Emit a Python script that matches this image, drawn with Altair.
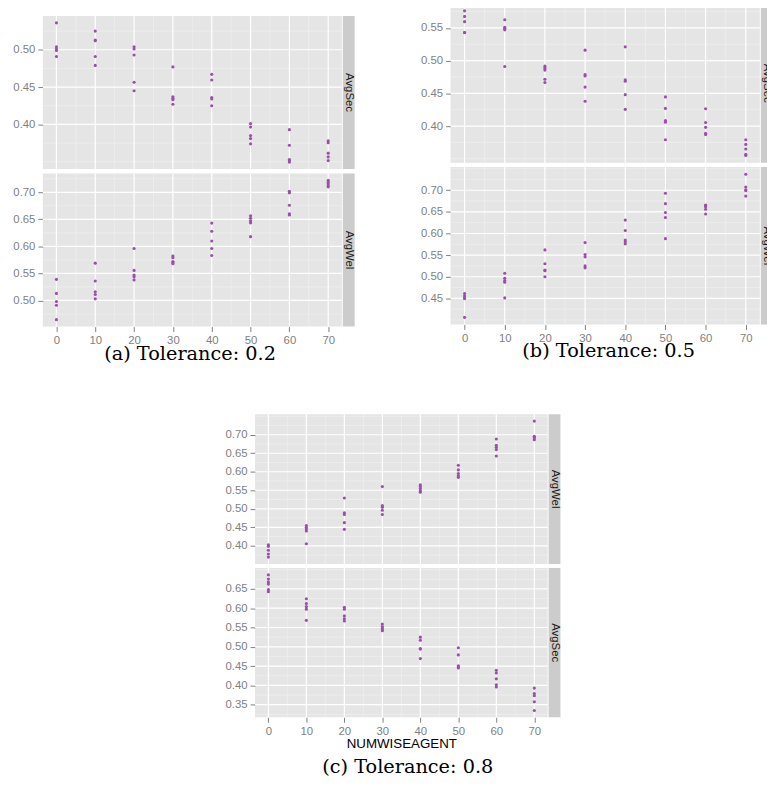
import altair as alt
import numpy as np
import pandas as pd

X_LEVELS = [0, 10, 20, 30, 40, 50, 60, 70]
X_MAJOR = [0, 10, 20, 30, 40, 50, 60, 70]
X_MINOR = [5, 15, 25, 35, 45, 55, 65]
X_DOMAIN = [-3.5, 73.5]

# (a) Tolerance 0.2
a_sec = [[0.536, 0.504, 0.501, 0.499, 0.491],
         [0.525, 0.513, 0.512, 0.491, 0.479],
         [0.504, 0.501, 0.493, 0.4565, 0.445],
         [0.477, 0.437, 0.435, 0.433, 0.427],
         [0.467, 0.4595, 0.436, 0.434, 0.425],
         [0.401, 0.3965, 0.385, 0.381, 0.374],
         [0.393, 0.372, 0.353, 0.351, 0.3495],
         [0.378, 0.3755, 0.3615, 0.3565, 0.3515]]
a_wel = [[0.539, 0.513, 0.498, 0.491, 0.4645],
         [0.569, 0.536, 0.516, 0.511, 0.503],
         [0.596, 0.5555, 0.547, 0.544, 0.538],
         [0.582, 0.579, 0.572, 0.570, 0.568],
         [0.643, 0.628, 0.610, 0.596, 0.583],
         [0.6565, 0.652, 0.647, 0.6435, 0.618],
         [0.702, 0.699, 0.676, 0.660, 0.658],
         [0.722, 0.719, 0.716, 0.712, 0.710]]
# (b) Tolerance 0.5
b_sec = [[0.576, 0.5675, 0.5595, 0.543, 0.543],
         [0.5625, 0.551, 0.549, 0.547, 0.491],
         [0.4915, 0.4885, 0.4855, 0.4715, 0.4665],
         [0.516, 0.4785, 0.4765, 0.4595, 0.438],
         [0.521, 0.4705, 0.4685, 0.448, 0.4255],
         [0.4445, 0.427, 0.4085, 0.406, 0.379],
         [0.4265, 0.4055, 0.398, 0.389, 0.387],
         [0.379, 0.372, 0.365, 0.357, 0.355]]
b_wel = [[0.461, 0.4555, 0.451, 0.4495, 0.406],
         [0.508, 0.4965, 0.491, 0.4875, 0.451],
         [0.562, 0.530, 0.5155, 0.514, 0.500],
         [0.579, 0.5515, 0.546, 0.525, 0.5205],
         [0.631, 0.607, 0.585, 0.581, 0.576],
         [0.693, 0.669, 0.6485, 0.637, 0.588],
         [0.666, 0.664, 0.662, 0.656, 0.645],
         [0.737, 0.7075, 0.701, 0.699, 0.6865]]
# (c) Tolerance 0.8
c_wel = [[0.403, 0.3985, 0.388, 0.378, 0.3695],
         [0.455, 0.450, 0.4455, 0.440, 0.4055],
         [0.529, 0.489, 0.4845, 0.4625, 0.4445],
         [0.560, 0.5085, 0.504, 0.496, 0.4845],
         [0.5645, 0.560, 0.5545, 0.549, 0.545],
         [0.6175, 0.605, 0.5955, 0.589, 0.585],
         [0.6885, 0.6715, 0.666, 0.660, 0.6425],
         [0.737, 0.6955, 0.694, 0.6915, 0.6865]]
c_sec = [[0.6865, 0.6755, 0.668, 0.6625, 0.648, 0.6425],
         [0.6245, 0.612, 0.604, 0.5975, 0.5685],
         [0.6025, 0.5975, 0.580, 0.5725, 0.567],
         [0.559, 0.5525, 0.5485, 0.5445, 0.5415],
         [0.525, 0.517, 0.4955, 0.494, 0.4695],
         [0.4975, 0.479, 0.451, 0.448, 0.445],
         [0.439, 0.432, 0.417, 0.4015, 0.396],
         [0.393, 0.379, 0.3735, 0.3575, 0.335]]

# y tick labels per facet
a_sec_ticks = [0.40, 0.45, 0.50]
a_wel_ticks = [0.50, 0.55, 0.60, 0.65, 0.70]
b_sec_ticks = [0.40, 0.45, 0.50, 0.55]
b_wel_ticks = [0.45, 0.50, 0.55, 0.60, 0.65, 0.70]
c_wel_ticks = [0.40, 0.45, 0.50, 0.55, 0.60, 0.65, 0.70]
c_sec_ticks = [0.35, 0.40, 0.45, 0.50, 0.55, 0.60, 0.65]

captions = ["(a) Tolerance: 0.2", "(b) Tolerance: 0.5", "(c) Tolerance: 0.8"]
x_title = "NUMWISEAGENT"

POINT_COLOR = "#9B4FAB"
BG = "#E5E5E5"
MINOR_COLOR = "#F2F2F2"
STRIP_FILL = "#CCCCCC"
LABEL_COLOR = "#7F7F7F"


def to_df(vals):
    xs, ys = [], []
    for xv, col in zip(X_LEVELS, vals):
        for v in col:
            xs.append(xv)
            ys.append(v)
    return pd.DataFrame({"x": xs, "y": ys})


def facet(vals, y_major, width, height, strip, x_axis=False, title=None,
          caption=None, cap_x=0.0, cap_dy=0.0):
    df = to_df(vals)
    lo_d, hi_d = df.y.min(), df.y.max()
    pad = 0.05 * (hi_d - lo_d)
    lo, hi = lo_d - pad, hi_d + pad
    k0 = int(np.ceil(lo / 0.025 - 1e-9))
    k1 = int(np.floor(hi / 0.025 + 1e-9))
    major_k = {int(round(v / 0.025)) for v in y_major}
    y_minor = [round(k * 0.025, 4) for k in range(k0, k1 + 1) if k not in major_k]

    xs = alt.Scale(domain=X_DOMAIN, nice=False, zero=False)
    ys = alt.Scale(domain=[float(lo), float(hi)], nice=False, zero=False)
    if x_axis:
        xaxis = alt.Axis(values=X_MAJOR, title=title, labelFlush=False)
    else:
        xaxis = None
    yaxis = alt.Axis(values=y_major, format=".2f", title=None, labelFlush=False)

    vx_minor = alt.Chart(pd.DataFrame({"x": X_MINOR})).mark_rule(
        color=MINOR_COLOR, strokeWidth=0.6).encode(x=alt.X("x:Q", scale=xs, axis=xaxis))
    hy_minor = alt.Chart(pd.DataFrame({"y": y_minor})).mark_rule(
        color=MINOR_COLOR, strokeWidth=0.6).encode(y=alt.Y("y:Q", scale=ys, axis=yaxis))
    vx_major = alt.Chart(pd.DataFrame({"x": X_MAJOR})).mark_rule(
        color="white", strokeWidth=1.2).encode(x=alt.X("x:Q", scale=xs, axis=xaxis))
    hy_major = alt.Chart(pd.DataFrame({"y": y_major})).mark_rule(
        color="white", strokeWidth=1.2).encode(y=alt.Y("y:Q", scale=ys, axis=yaxis))

    pts = alt.Chart(df).mark_circle(size=10, color=POINT_COLOR, opacity=1).encode(
        x=alt.X("x:Q", scale=xs, axis=xaxis),
        y=alt.Y("y:Q", scale=ys, axis=yaxis))

    sdf = pd.DataFrame({"s": [strip]})
    strip_rect = alt.Chart(sdf).mark_rect(color=STRIP_FILL).encode(
        x=alt.value(width + 1), x2=alt.value(width + 13), y=alt.value(0), y2=alt.value(height))
    strip_text = alt.Chart(sdf).mark_text(
        angle=90, font="Liberation Sans", fontSize=11.5, color="#1A1A1A",
        baseline="middle", align="center").encode(
        text="s:N", x=alt.value(width + 7), y=alt.value(height / 2))

    layers = [vx_minor, hy_minor, vx_major, hy_major, pts, strip_rect, strip_text]
    if caption is not None:
        cdf = pd.DataFrame({"c": [caption]})
        layers.append(alt.Chart(cdf).mark_text(
            font="DejaVu Serif", fontSize=19.5, color="black",
            baseline="middle", align="center").encode(
            text="c:N", x=alt.value(cap_x), y=alt.value(height + cap_dy)))
    return alt.layer(*layers).properties(width=width, height=height)


def spacer(width, height):
    return alt.Chart(pd.DataFrame({"z": [0]})).mark_rule(opacity=0, strokeWidth=0.1).encode(
        x=alt.value(0), y=alt.value(0), y2=alt.value(height)
    ).properties(width=width, height=height,
                 view=alt.ViewBackground(fill="transparent", stroke="transparent"))


WA, WB, WC = 302.5, 313, 296
pa = alt.vconcat(
    spacer(WA, 7.6),
    facet(a_sec, a_sec_ticks, WA, 155, "AvgSec"),
    facet(a_wel, a_wel_ticks, WA, 155, "AvgWel", x_axis=True,
          caption=captions[0], cap_x=149, cap_dy=27.3),
    spacing=2.4)
pb = alt.vconcat(
    facet(b_sec, b_sec_ticks, WB, 161, "AvgSec"),
    facet(b_wel, b_wel_ticks, WB, 159.3, "AvgWel", x_axis=True,
          caption=captions[1], cap_x=160, cap_dy=27),
    spacing=2.4)
pc = alt.vconcat(
    facet(c_wel, c_wel_ticks, WC, 151.4, "AvgWel"),
    facet(c_sec, c_sec_ticks, WC, 151, "AvgSec", x_axis=True, title=x_title,
          caption=captions[2], cap_x=154.5, cap_dy=50),
    spacing=2.6)

row1 = alt.hconcat(pa, pb, spacing=65.5)
chart = alt.vconcat(row1, pc, spacing=50.5, center=True).properties(
    padding={"left": 4, "top": -10, "right": -6, "bottom": 0}
).configure_view(fill=BG, stroke=None).configure_axis(
    labelFont="Liberation Sans", labelFontSize=11.5, labelColor=LABEL_COLOR,
    tickColor=LABEL_COLOR, tickSize=5, tickWidth=1, labelPadding=3,
    domain=False, grid=False, titleFont="Liberation Sans", titleFontSize=13.5,
    titleFontWeight="normal", titleColor="black", titlePadding=0)

chart.save("out.html", embed_options={"renderer": "svg", "actions": False})
